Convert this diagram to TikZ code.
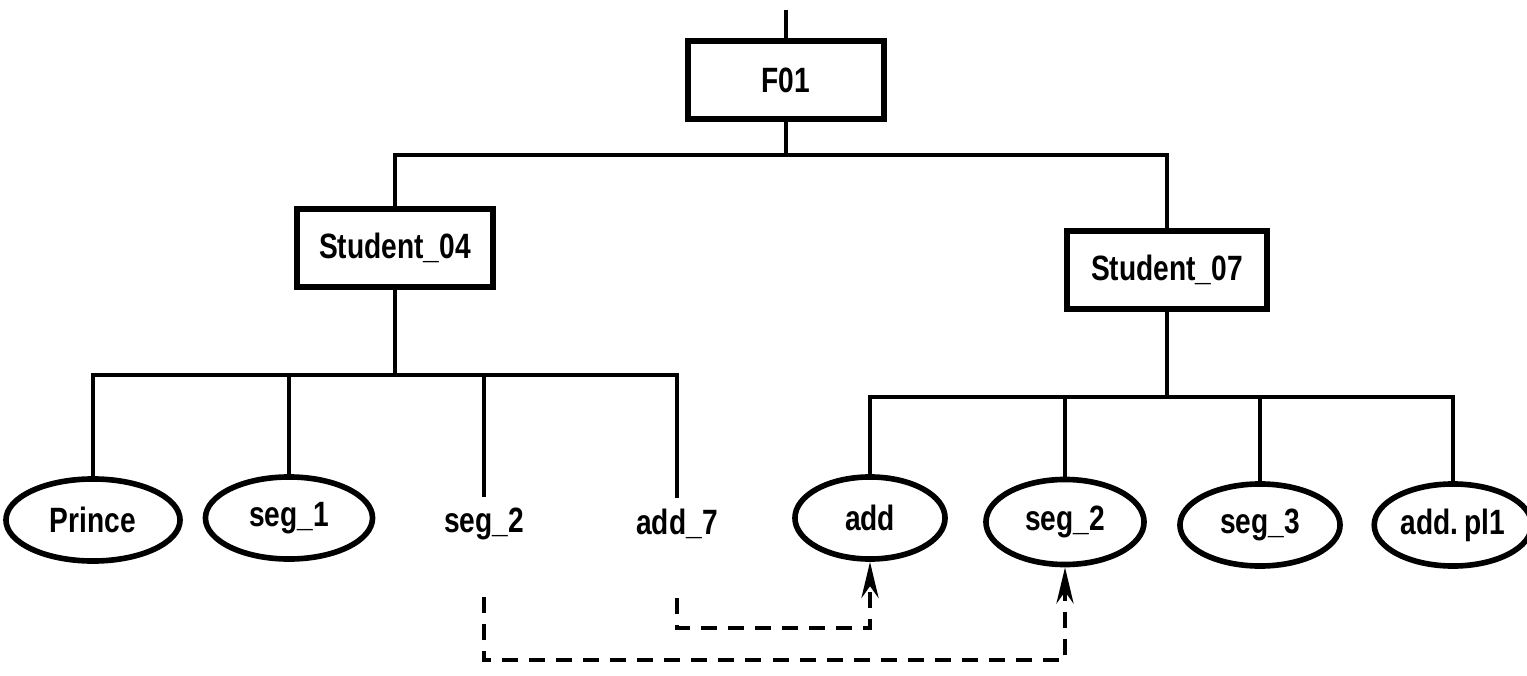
\documentclass[tikz,border=0pt]{standalone}
\usepackage{fontspec}
\setmainfont{Liberation Sans}[FakeStretch=0.8]
\usetikzlibrary{shapes.geometric,arrows.meta,positioning,calc}

\begin{document}
\begin{tikzpicture}[
    x=0.01cm, y=-0.01cm,
    font=\fontsize{10}{12}\selectfont\bfseries,
    classbox/.style={rectangle, draw, line width=1.9pt, minimum width=1.96cm, minimum height=0.78cm, inner sep=2pt},
    objnode/.style={ellipse, draw, line width=1.6pt, minimum width=1.6cm, minimum height=0.82cm, inner sep=1pt},
    freenode/.style={inner sep=3pt},
    branch/.style={line width=1pt},
    reflink/.style={line width=1.4pt, dash pattern=on 0.16cm off 0.11cm, -{Stealth[length=0.36cm,width=0.17cm]}}
]

\useasboundingbox (0,0) rectangle (1527,676);

% Root
\node [classbox] (f01) at (786,80) {F01};
\coordinate (entry) at (786,10);

% Second level
\node [classbox] (student04) at (395,248) {Student\_04};
\node [classbox, minimum width=2cm] (student07) at (1167,270) {Student\_07};

% Leaves of Student_04
\node [objnode, minimum width=1.74cm] (prince) at (93,520) {Prince};
\node [objnode, minimum width=1.67cm] (seg1) at (289,518) {seg\_1};
\node [freenode] (segtwo) at (484,524) {seg\_2};
\node [freenode] (addseven) at (677,524) {add\_7};

% Leaves of Student_07
\node [objnode, minimum width=1.5cm] (addobj) at (870,518) {add};
\node [objnode, minimum width=1.58cm, minimum height=0.85cm] (segtwoobj) at (1065,522) {seg\_2};
\node [objnode] (segthree) at (1260,525) {seg\_3};
\node [objnode, minimum width=1.46cm] (addpl) at (1453,525) {add.\,pl1};

% Upper tree
\coordinate (rootbar) at (786,155);
\draw [branch] (entry) -- (f01);
\draw [branch] (f01) -- (rootbar);
\draw [branch] (student04.north) |- (rootbar) -| (student07.north);

% Left branch
\coordinate (leftbar) at (395,375);
\draw [branch] (student04) -- (leftbar);
\draw [branch] (prince.north) |- (leftbar) -| (addseven.north);
\foreach \leaf in {seg1,segtwo}
    \draw [branch] (\leaf.north) -- (\leaf.north |- leftbar);

% Right branch
\coordinate (rightbar) at (1167,397);
\draw [branch] (student07) -- (rightbar);
\draw [branch] (addobj.north) |- (rightbar) -| (addpl.north);
\foreach \leaf in {segtwoobj,segthree}
    \draw [branch] (\leaf.north) -- (\leaf.north |- rightbar);

% References
\coordinate (turnseg) at (484,660);
\coordinate (turnadd) at (677,628);
\draw [reflink, shorten <=0.46cm] (segtwo.south) -- (turnseg) -| (segtwoobj.south);
\draw [reflink, shorten <=0.48cm] (addseven.south) -- (turnadd) -| (addobj.south);

\end{tikzpicture}
\end{document}
